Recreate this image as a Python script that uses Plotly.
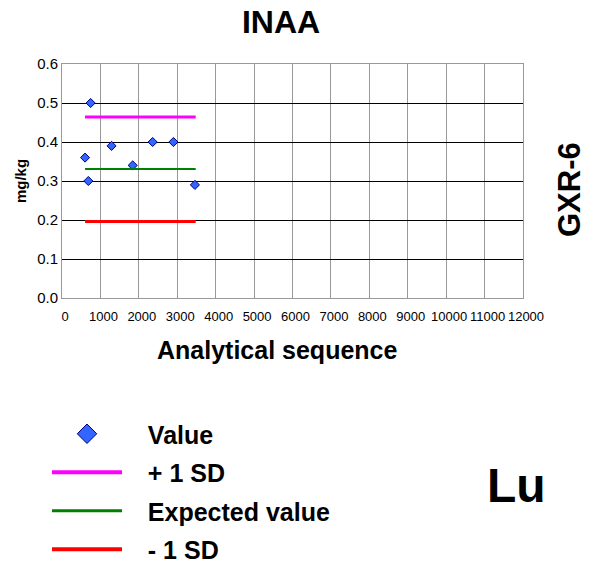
import plotly.graph_objects as go

# ---- data ----
seq = [600, 745, 685, 1290, 1840, 2360, 2900, 3460]
values = [0.36, 0.50, 0.30, 0.39, 0.34, 0.40, 0.40, 0.29]
line_x = [600, 3480]
plus_sd = [0.464, 0.464]
expected = [0.331, 0.331]
minus_sd = [0.196, 0.196]
x_ticks = list(range(0, 12001, 1000))
y_ticks = [0.0, 0.1, 0.2, 0.3, 0.4, 0.5, 0.6]

FONT = "Liberation Sans, Arial, sans-serif"
W, H = 597, 563
L, R, T, B = 62, 523, 64, 298

fig = go.Figure()
fig.add_trace(go.Scatter(x=seq, y=values, mode="markers", showlegend=False,
                         marker=dict(symbol="diamond", size=7, color="#3366FF",
                                     line=dict(color="#000080", width=1))))
fig.add_trace(go.Scatter(x=line_x, y=plus_sd, mode="lines", showlegend=False,
                         line=dict(color="#FF00FF", width=3)))
fig.add_trace(go.Scatter(x=line_x, y=expected, mode="lines", showlegend=False,
                         line=dict(color="#008000", width=2)))
fig.add_trace(go.Scatter(x=line_x, y=minus_sd, mode="lines", showlegend=False,
                         line=dict(color="#FF0000", width=3)))

# legend proxies
pad = "&nbsp;" * 3
fig.add_trace(go.Scatter(x=[None], y=[None], mode="markers", name=pad + "Value", legendgroup="a",
                         marker=dict(symbol="diamond", size=15, color="#3366FF",
                                     line=dict(color="#000080", width=1))))
fig.add_trace(go.Scatter(x=[None], y=[None], mode="lines", name=pad + "+ 1 SD", legendgroup="b",
                         line=dict(color="#FF00FF", width=4)))
fig.add_trace(go.Scatter(x=[None], y=[None], mode="lines", name=pad + "Expected value", legendgroup="c",
                         line=dict(color="#008000", width=3)))
fig.add_trace(go.Scatter(x=[None], y=[None], mode="lines", name=pad + "- 1 SD", legendgroup="d",
                         line=dict(color="#FF0000", width=4)))

pw = R - L
ph = B - T
def px(xp):
    return (xp - L) / pw
def py(yp):
    return (B - yp) / ph

fig.update_layout(
    width=W, height=H, autosize=False,
    margin=dict(l=L, r=W - R, t=T, b=H - B, autoexpand=False),
    paper_bgcolor="white", plot_bgcolor="white",
    font=dict(family=FONT, color="black"),
    title=dict(text="<b>INAA</b>", x=281 / W, xanchor="center", y=1 - 22 / H, yanchor="middle",
               font=dict(size=32, family=FONT, color="black")),
    xaxis=dict(range=[0, 12000], tickvals=x_ticks, ticktext=[str(v) for v in x_ticks],
               showgrid=True, gridcolor="#999999", gridwidth=1,
               showline=True, linecolor="#999999", linewidth=1, mirror=True,
               ticks="", tickfont=dict(size=13, family=FONT), zeroline=False, tickangle=0,
               ticklabelshift=3, ticklabelstandoff=6,
               automargin=False),
    yaxis=dict(range=[0, 0.6], tickvals=y_ticks, ticktext=[f"{v:.1f}" for v in y_ticks],
               showgrid=True, gridcolor="black", gridwidth=1,
               showline=True, linecolor="#999999", linewidth=1, mirror=True,
               ticks="", tickfont=dict(size=15, family=FONT), zeroline=False, automargin=False,
               title=dict(text="<b>mg/kg</b>", font=dict(size=15, family=FONT), standoff=6)),
    legend=dict(x=px(47), y=py(411), xanchor="left", yanchor="top",
                font=dict(size=25, family=FONT, color="black", weight="bold"),
                itemwidth=70, tracegroupgap=3, traceorder="grouped",
                bgcolor="rgba(0,0,0,0)"),
    annotations=[
        dict(text="<b>Analytical sequence</b>", x=px(277), y=py(350), xref="paper", yref="paper",
             xanchor="center", yanchor="middle", showarrow=False,
             font=dict(size=25, family=FONT, color="black")),
        dict(text="<b>GXR-6</b>", x=px(569), y=py(190), xref="paper", yref="paper",
             xanchor="center", yanchor="middle", showarrow=False, textangle=-90,
             font=dict(size=31, family=FONT, color="black")),
        dict(text="<b>Lu</b>", x=px(516), y=py(485), xref="paper", yref="paper",
             xanchor="center", yanchor="middle", showarrow=False,
             font=dict(size=48, family=FONT, color="black")),
    ],
)
fig.write_html("out.html", config={"displayModeBar": False},
               post_script="document.body.style.margin='0';document.body.style.padding='0';")
